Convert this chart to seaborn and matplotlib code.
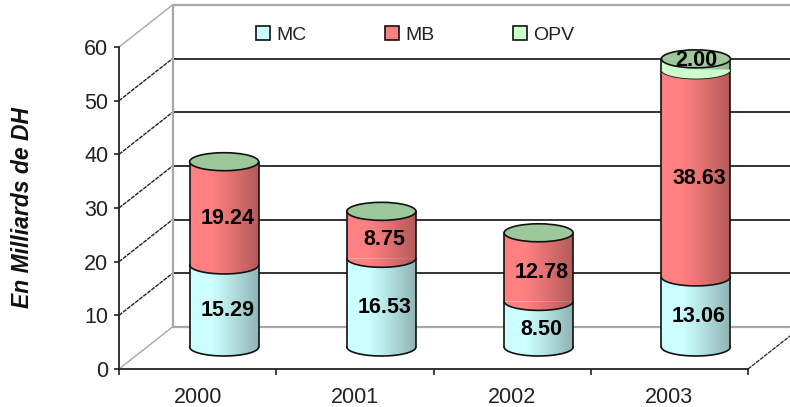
import numpy as np
import matplotlib
matplotlib.use("Agg")
import matplotlib.pyplot as plt
import seaborn as sns
from matplotlib.patches import Ellipse, Patch
from matplotlib.path import Path
from matplotlib.transforms import Affine2D

years = ["2000", "2001", "2002", "2003"]
MC = [15.29, 16.53, 8.50, 13.06]
MB = [19.24, 8.75, 12.78, 38.63]
OPV = [0, 0, 0, 2.00]
yticks = [0, 10, 20, 30, 40, 50, 60]
ylabel = "En Milliards de DH"
series = [("MC", MC, "#CCFFFF"), ("MB", MB, "#FF8080"), ("OPV", OPV, "#CCFFCC")]
TOP_COLOR = "#9CC89C"
INK = "#111111"
GREY = "#A8A8A8"

sns.set_theme(style="white")
plt.rcParams["font.family"] = ["Liberation Sans", "DejaVu Sans"]

fig = plt.figure(figsize=(7.9, 4.07), dpi=100, facecolor="white")
W, H = 790, 407
ax = fig.add_axes([119 / W, 1 - 369 / H, (748 - 119) / W, (369 - 47) / H])
ax.set_facecolor("none")

BAR_W = 69 / 157.25
bottom = np.zeros(4)
for name, vals, col in series:
    sns.barplot(x=years, y=vals, bottom=bottom.copy(), color=col, saturation=1,
                width=BAR_W, linewidth=0, label=name, ax=ax, legend=False, zorder=3)
    bottom = bottom + np.array(vals)
totals = bottom
ax.set_xlim(-0.5, 3.5)
ax.set_ylim(0, 60)

# depth transforms
mid = ax.transData + Affine2D().translate(26.5, 22)
back = ax.transData + Affine2D().translate(53.5, 42)
for p in ax.patches:
    p.set_transform(mid)

# walls and gridlines
for v in yticks:
    is_edge = v in (0, 60)
    c = GREY if is_edge else INK
    lw = 1.6 if is_edge else 1.2
    ax.plot([-0.5, 3.9], [v, v], transform=back, color=c, lw=lw, clip_on=False, zorder=1)
    # connector from the front axis to the back wall
    p0 = ax.transData.transform((-0.5, v))
    p1 = back.transform((-0.5, v))
    ax.plot([p0[0], p1[0]], [p0[1], p1[1]], transform=None, color=GREY if is_edge else "#222222",
            lw=1.0, ls="-" if is_edge else (0, (3, 0.7)), clip_on=False, zorder=1)
ax.plot([-0.5, -0.5], [0, 60], transform=back, color=GREY, lw=1.6, clip_on=False, zorder=1)
p0 = ax.transData.transform((3.5, 0))
p1 = back.transform((3.5, 0))
ax.plot([p0[0], p1[0]], [p0[1], p1[1]], transform=None, color="#333333", lw=1.0,
        ls=(0, (3, 0.7)), clip_on=False, zorder=1)

# cylinders
Ry = 9 / (322 / 60)
Rx = BAR_W / 2
t = np.linspace(np.pi, 2 * np.pi, 60)
shade = np.zeros((1, 200, 4))
shade[0, :, 3] = np.clip((np.linspace(0, 1, 200) - 0.3) / 0.7, 0, 1) ** 1.1 * 0.30

def arc(i, level):
    return i + Rx * np.cos(t), level + Ry * np.sin(t)

base = np.zeros(4)
for name, vals, col in series:
    vals = np.array(vals, dtype=float)
    for i, v in enumerate(vals):
        if v <= 0:
            continue
        ax_, ay_ = arc(i, base[i])
        # rounded underside of the segment, same colour as its bar
        ax.fill(ax_, ay_, color=col, lw=0, transform=mid, zorder=3.2 + 0.01 * base[i])
        ax.plot(ax_, ay_, color=INK, lw=1.2, transform=mid, zorder=3.6, solid_capstyle="round")
    base = base + vals

for i, tot in enumerate(totals):
    ax_, ay_ = arc(i, 0)
    xs = np.r_[ax_, i + Rx, i - Rx, ax_[0]]
    ys = np.r_[ay_, tot, tot, ay_[0]]
    clip = Path(np.column_stack([xs, ys]))
    im = ax.imshow(shade, extent=(i - Rx, i + Rx, -Ry, tot), aspect="auto", zorder=3.4,
                   transform=mid, interpolation="bilinear")
    im.set_clip_path(clip, mid)
    ax.plot([i - Rx, i - Rx], [0, tot], color=INK, lw=1.2, transform=mid, zorder=3.7)
    ax.plot([i + Rx, i + Rx], [0, tot], color=INK, lw=1.2, transform=mid, zorder=3.7)
    ax.add_patch(Ellipse((i, tot), 2 * Rx, 2 * Ry, facecolor=TOP_COLOR, edgecolor=INK,
                         lw=1.2, transform=mid, zorder=3.8))
ax.set_xlim(-0.5, 3.5)
ax.set_ylim(0, 60)

# data labels
base = np.zeros(4)
for name, vals, col in series:
    vals = np.array(vals, dtype=float)
    for i, v in enumerate(vals):
        if v <= 0:
            continue
        dy = 4 if name == "OPV" else -5
        dx = 0 if name == "OPV" else 3
        ax.annotate(f"{v:.2f}", xy=(i, base[i] + v / 2), xycoords=mid,
                    xytext=(dx * 0.72, dy * 0.72), textcoords="offset points",
                    ha="center", va="center", fontsize=15.5, fontweight="bold",
                    color="black", zorder=5)
    base = base + vals

# axes
sns.despine(ax=ax, top=True, right=True)
for s in ("left", "bottom"):
    ax.spines[s].set_color("#222222")
    ax.spines[s].set_linewidth(1.3)
    ax.spines[s].set_zorder(2)
ax.set_yticks(yticks)
ax.set_yticklabels([str(v) for v in yticks], fontsize=15.5, color="#222222")
ax.set_xticks(range(4))
ax.set_xticklabels(years, fontsize=15.5, color="#222222")
ax.set_xticks(np.arange(-0.5, 4), minor=True)
ax.tick_params(axis="y", length=5 * 0.72, width=1.2, color="#222222", left=True, pad=4)
ax.tick_params(axis="x", which="major", length=0, pad=13)
ax.tick_params(axis="x", which="minor", length=6 * 0.72, width=1.2, color="#222222", bottom=True)
ax.set_xlabel("")
fig.text(23 / W, 1 - 208 / H, ylabel, rotation=90, ha="center", va="center",
         fontsize=16.5, fontweight="bold", fontstyle="italic", color="#111111")

# legend
handles = [Patch(facecolor=c, edgecolor=INK, lw=1.2, label=n) for n, _, c in series]
ax.legend(handles=handles, ncol=3, frameon=False, fontsize=14, labelcolor="#222222",
          loc="center left", bbox_to_anchor=(256 / W, 1 - 35 / H),
          bbox_transform=fig.transFigure, handlelength=0.72, handleheight=0.72,
          handletextpad=0.35, columnspacing=4.0, borderpad=0, borderaxespad=0)

fig.savefig("out.png", dpi=100, facecolor="white")
